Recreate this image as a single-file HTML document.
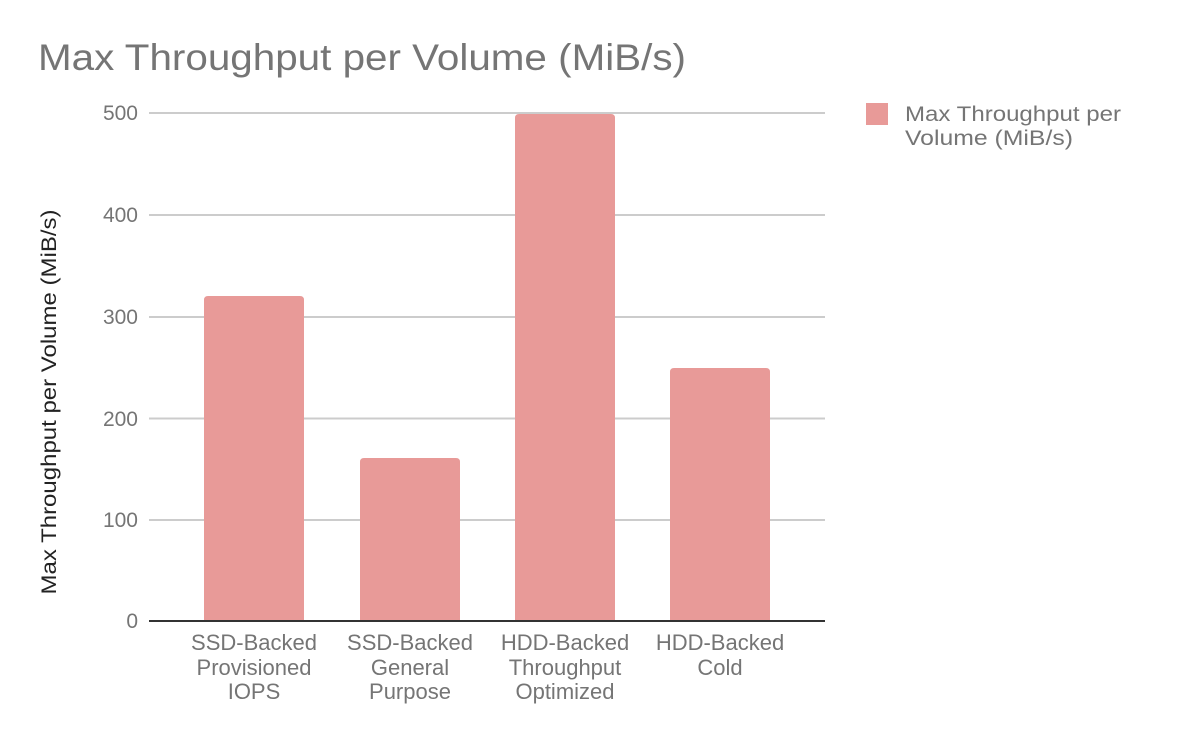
<!DOCTYPE html>
<html><head><style>
body{margin:0;background:#fff;}
svg text{font-family:"Liberation Sans",sans-serif;fill:#757575;}
</style></head><body>
<svg width="1200" height="742" viewBox="0 0 1200 742" xmlns="http://www.w3.org/2000/svg">
<rect width="1200" height="742" fill="#fff"/>
<text x="38" y="70" font-size="37" textLength="648" lengthAdjust="spacingAndGlyphs">Max Throughput per Volume (MiB/s)</text>
<g stroke="#cccccc" stroke-width="2">
<line x1="149" x2="825" y1="113" y2="113"/>
<line x1="149" x2="825" y1="215" y2="215"/>
<line x1="149" x2="825" y1="317" y2="317"/>
<line x1="149" x2="825" y1="418.5" y2="418.5"/>
<line x1="149" x2="825" y1="520" y2="520"/>
</g>
<g font-size="21" text-anchor="end">
<text x="138" y="120">500</text>
<text x="138" y="222">400</text>
<text x="138" y="324">300</text>
<text x="138" y="426">200</text>
<text x="138" y="527">100</text>
<text x="138" y="628">0</text>
</g>
<g fill="#e89a98">
<path d="M204,621 V300 Q204,296 208,296 H300 Q304,296 304,300 V621 Z"/>
<path d="M360,621 V462 Q360,458 364,458 H456 Q460,458 460,462 V621 Z"/>
<path d="M515,621 V118 Q515,114 519,114 H611 Q615,114 615,118 V621 Z"/>
<path d="M670,621 V372 Q670,368 674,368 H766 Q770,368 770,372 V621 Z"/>
</g>
<line x1="149" x2="825" y1="621" y2="621" stroke="#333" stroke-width="2"/>
<g font-size="22" text-anchor="middle">
<text x="254" y="650">SSD-Backed</text><text x="254" y="675">Provisioned</text><text x="254" y="699">IOPS</text>
<text x="410" y="650">SSD-Backed</text><text x="410" y="675">General</text><text x="410" y="699">Purpose</text>
<text x="565" y="650">HDD-Backed</text><text x="565" y="675">Throughput</text><text x="565" y="699">Optimized</text>
<text x="720" y="650">HDD-Backed</text><text x="720" y="675">Cold</text>
</g>
<text transform="translate(56,402) rotate(-90)" font-size="21" text-anchor="middle" textLength="385" lengthAdjust="spacingAndGlyphs" style="fill:#222">Max Throughput per Volume (MiB/s)</text>
<rect x="866" y="103" width="22" height="22" fill="#e89a98"/>
<text x="905" y="121" font-size="21" textLength="216" lengthAdjust="spacingAndGlyphs">Max Throughput per</text>
<text x="905" y="145" font-size="21" textLength="168" lengthAdjust="spacingAndGlyphs">Volume (MiB/s)</text>
</svg>
</body></html>
